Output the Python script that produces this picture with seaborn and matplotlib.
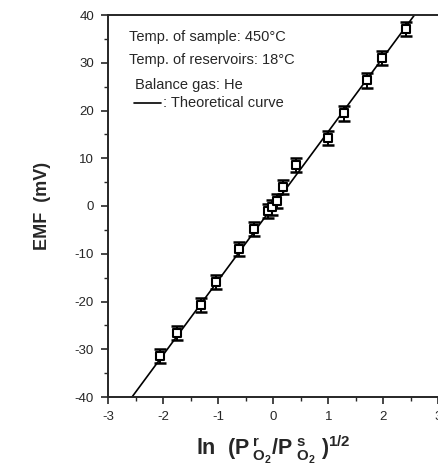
import matplotlib
matplotlib.use("Agg")
import matplotlib.pyplot as plt
from matplotlib.ticker import MultipleLocator
import seaborn as sns
import pandas as pd

# measured EMF vs ln(P_r/P_s)^(1/2)
ln_ratio = [-2.05, -1.74, -1.31, -1.04, -0.62, -0.35, -0.10, -0.03, 0.06, 0.17,
            0.42, 1.00, 1.28, 1.70, 1.97, 2.41]
emf = [-31.4, -26.6, -20.7, -15.9, -9.0, -4.8, -1.0, -0.3, 1.0, 4.0,
       8.6, 14.2, 19.4, 26.3, 31.0, 37.0]
emf_err = [1.5] * len(emf)

# theoretical curve endpoints
theory_x = [-3.0, 3.0]
theory_y = [-46.8, 46.8]

sns.set_style("ticks")
plt.rcParams["font.family"] = ["Liberation Sans", "DejaVu Sans"]
plt.rcParams["mathtext.fontset"] = "custom"
plt.rcParams["mathtext.rm"] = "Liberation Sans"
plt.rcParams["mathtext.bf"] = "Liberation Sans:bold"
plt.rcParams["mathtext.it"] = "Liberation Sans:italic"

df = pd.DataFrame({"x": ln_ratio, "y": emf, "err": emf_err})
theory = pd.DataFrame({"x": theory_x, "y": theory_y})

fig = plt.figure(figsize=(4.39, 4.72), dpi=100)
ax = fig.add_axes([108 / 439, 75 / 472, 330.5 / 439, 382 / 472])

sns.lineplot(data=theory, x="x", y="y", color="black", lw=1.2, ax=ax)
ax.errorbar(df["x"], df["y"], yerr=df["err"], fmt="none", ecolor="black",
            elinewidth=1.4, capsize=4, capthick=1.8, zorder=3)
sns.scatterplot(data=df, x="x", y="y", marker="s", s=38, facecolor="white",
                edgecolor="black", linewidth=1.5, zorder=4, ax=ax)

ax.set_xlim(-3, 3)
ax.set_ylim(-40, 40)
ax.xaxis.set_major_locator(MultipleLocator(1))
ax.xaxis.set_minor_locator(MultipleLocator(0.5))
ax.yaxis.set_major_locator(MultipleLocator(10))
ax.yaxis.set_minor_locator(MultipleLocator(5))
ax.tick_params(which="major", direction="out", length=5, width=1.2, labelsize=9.5, pad=5)
ax.tick_params(which="minor", direction="out", length=3, width=1.0)
ax.set_xticklabels([f"{int(v)}" for v in ax.get_xticks()])
ax.set_yticklabels([f"{int(v)}" for v in ax.get_yticks()])
for s in ["left", "bottom", "top"]:
    ax.spines[s].set_linewidth(1.4)
ax.spines["right"].set_visible(False)

ax.set_ylabel("EMF  (mV)", fontsize=13, fontweight="bold", labelpad=17)
ax.set_xlabel(r"$\mathbf{ln\ \ (P^{\ r}_{\ O_2}/P^{\ s}_{\ O_2}\ )^{1/2}}$",
              fontsize=15.5, labelpad=8)

ax.text(0.064, 0.942, "Temp. of sample: 450°C", transform=ax.transAxes,
        fontsize=10.5, va="center", ha="left")
ax.text(0.064, 0.882, "Temp. of reservoirs: 18°C", transform=ax.transAxes,
        fontsize=10.5, va="center", ha="left")
ax.text(0.082, 0.817, "Balance gas: He", transform=ax.transAxes,
        fontsize=10.5, va="center", ha="left")
ax.plot([0.079, 0.160], [0.770, 0.770], color="black", lw=1.2,
        transform=ax.transAxes)
ax.text(0.167, 0.770, ": Theoretical curve", transform=ax.transAxes,
        fontsize=10.5, va="center", ha="left")

fig.savefig("out.png", dpi=100)
